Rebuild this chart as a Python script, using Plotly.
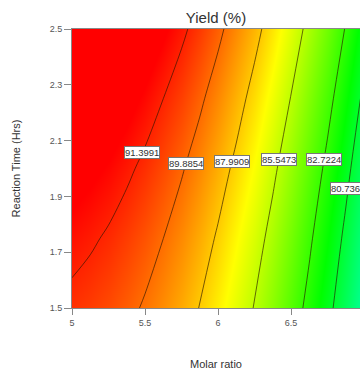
import numpy as np
import plotly.graph_objects as go

# Molar ratio grid (x) and reaction time grid (y), in data units
molar_ratio = [5.0, 5.125, 5.25, 5.375, 5.5, 5.625, 5.75, 5.875, 6.0,
               6.125, 6.25, 6.375, 6.5, 6.625, 6.75, 6.875, 7.0]
reaction_time = [1.5, 1.75, 2.0, 2.25, 2.5]

# Yield (%) at each grid node (rows = reaction_time)
yield_1_50 = [91.10, 90.88, 90.58, 90.20, 89.75, 89.23, 88.63, 87.95, 87.20,
              86.38, 85.48, 84.50, 83.45, 82.33, 81.13, 79.85, 78.50]
yield_1_75 = [91.79, 91.56, 91.26, 90.87, 90.42, 89.89, 89.28, 88.60, 87.84,
              87.01, 86.11, 85.12, 84.07, 82.94, 81.73, 80.45, 79.09]
yield_2_00 = [92.55, 92.31, 92.00, 91.61, 91.15, 90.61, 90.00, 89.31, 88.55,
              87.71, 86.80, 85.81, 84.75, 83.61, 82.40, 81.11, 79.75]
yield_2_25 = [93.37, 93.13, 92.81, 92.42, 91.95, 91.40, 90.79, 90.09, 89.32,
              88.48, 87.56, 86.57, 85.50, 84.35, 83.14, 81.84, 80.47]
yield_2_50 = [94.26, 94.01, 93.69, 93.29, 92.81, 92.26, 91.64, 90.94, 90.16,
              89.31, 88.39, 87.39, 86.31, 85.16, 83.94, 82.64, 81.26]

# Contour levels drawn and labelled
contour_levels = [91.3991, 89.8854, 87.9909, 85.5473, 82.7224, 80.7362]

# Tick labels
x_tick_vals = [5, 5.5, 6, 6.5]
x_tick_text = ["5", "5.5", "6", "6.5"]
y_tick_vals = [1.5, 1.7, 1.9, 2.1, 2.3, 2.5]
y_tick_text = ["1.5", "1.7", "1.9", "2.1", "2.3", "2.5"]

# ---- layout-only settings ----
label_y = [2.057, 2.017, 2.026, 2.032, 2.032, 1.930]
FONT = "Liberation Sans, Arial, sans-serif"

x = np.array(molar_ratio)
y = np.array(reaction_time)
z = np.array([yield_1_50, yield_1_75, yield_2_00, yield_2_25, yield_2_50])

colorscale = [
    [0.00, "rgb(0,0,255)"],
    [0.25, "rgb(0,255,255)"],
    [0.50, "rgb(0,255,0)"],
    [0.75, "rgb(255,255,0)"],
    [1.00, "rgb(255,0,0)"],
]

fig = go.Figure()
fig.add_trace(go.Heatmap(
    x=x, y=y, z=z, zsmooth="best", colorscale=colorscale,
    zmin=71.3, zmax=92.1, showscale=False, hoverinfo="skip",
))

for lev in contour_levels:
    fig.add_trace(go.Contour(
        x=x, y=y, z=z, autocontour=False,
        contours=dict(start=lev, end=lev, size=1, coloring="none", showlabels=False),
        line=dict(color="rgba(40,20,0,0.8)", width=0.8, smoothing=1),
        showscale=False, hoverinfo="skip",
    ))


def x_at(level, yv):
    row = np.array([np.interp(yv, y, z[:, j]) for j in range(len(x))])
    return float(np.interp(level, row[::-1], x[::-1]))


for lev, yl in zip(contour_levels, label_y):
    fig.add_annotation(
        x=x_at(lev, yl), y=yl, xref="x", yref="y",
        text=f"{lev:.4f}", showarrow=False,
        font=dict(family=FONT, size=9.5, color="#333"),
        bgcolor="white", bordercolor="#777", borderwidth=1, borderpad=0,
    )

fig.update_layout(
    width=360, height=371,
    margin=dict(l=72, r=0, t=29, b=63),
    paper_bgcolor="white", plot_bgcolor="white",
    font=dict(family=FONT),
    title=dict(text="Yield (%)", x=0.5, xref="paper", xanchor="center",
               y=1 - 18 / 371, yref="container", yanchor="middle",
               font=dict(size=15, color="#333")),
    showlegend=False,
)
fig.update_xaxes(
    range=[5, 5 + 288 / 146], tickvals=x_tick_vals, ticktext=x_tick_text,
    ticks="outside", ticklen=6, tickcolor="#888", showline=True, linecolor="#888",
    linewidth=1, mirror=True, showgrid=False, zeroline=False,
    tickfont=dict(size=9, color="#555"),
    title=dict(text="Molar ratio", font=dict(size=11, color="#333"), standoff=33),
)
fig.update_yaxes(
    range=[1.5, 2.5], tickvals=y_tick_vals, ticktext=y_tick_text,
    ticks="outside", ticklen=7, tickcolor="#888", showline=True, linecolor="#888",
    linewidth=1, mirror=False, showgrid=False, zeroline=False,
    tickfont=dict(size=9, color="#555"),
    title=dict(text="Reaction Time (Hrs)", font=dict(size=11, color="#333"), standoff=26),
)

fig.write_html(
    "out.html",
    config={"displayModeBar": False},
    post_script="document.body.style.margin='0';document.body.style.overflow='hidden';",
)
